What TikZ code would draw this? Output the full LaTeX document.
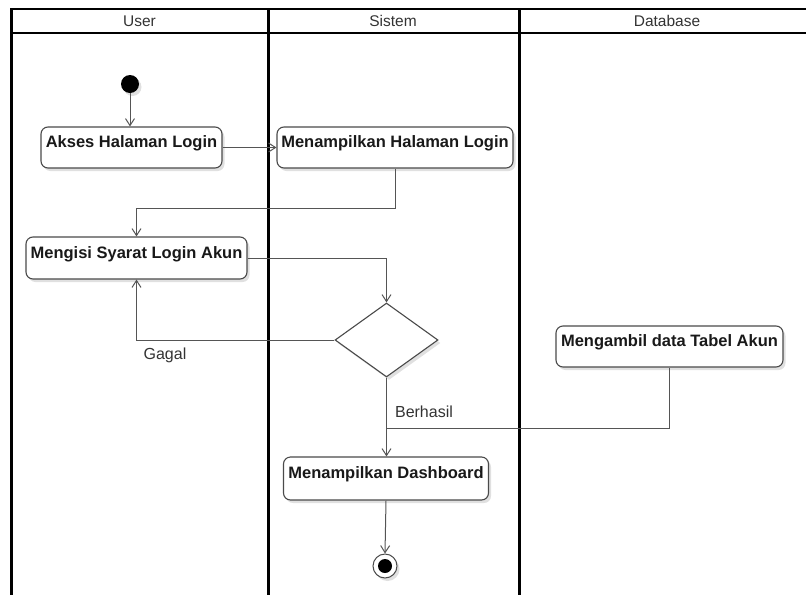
\documentclass[tikz,border=0pt]{standalone}
\usepackage{fontspec}
\setmainfont{Liberation Sans}
\usetikzlibrary{arrows.meta,shapes.geometric,shadows}
\definecolor{boxc}{HTML}{4A4A4A}
\definecolor{linec}{HTML}{555555}
\definecolor{txtc}{HTML}{333333}
\begin{document}
\begin{tikzpicture}[x=1pt,y=-1pt,
  softshadow/.style={drop shadow={shadow xshift=2.5pt,shadow yshift=-3pt,fill=black,opacity=0.12}},
  act/.style={draw=boxc,line width=1.1pt,rounded corners=7pt,fill=white,softshadow,
    font=\bfseries\fontsize{16.5}{19}\selectfont,text=black!90,
    inner xsep=0pt,inner ysep=0pt,text height=20.5pt,text depth=20.5pt},
  decision/.style={diamond,draw=boxc,line width=1.1pt,fill=white,softshadow,inner sep=0pt},
  lanehead/.style={font=\fontsize{15.5}{18}\selectfont,text=txtc},
  guard/.style={font=\fontsize{16}{19}\selectfont,text=txtc},
  flow/.style={draw=linec,line width=1pt,-{Straight Barb[length=7pt,width=9pt]}},
  lanerule/.style={line width=3pt,black},
  headrule/.style={line width=2pt,black}]
\useasboundingbox (0,0) rectangle (806,595);

% swimlanes
\draw[headrule] (11,9) -- (806,9);
\draw[headrule] (11,33) -- (806,33);
\draw[lanerule] (11,8) -- (11,595);
\draw[lanerule] (268,8) -- (268,595);
\draw[lanerule] (519,8) -- (519,595);
\node[lanehead] (hUser) at (139.5,21) {User};
\node[lanehead] (hSistem) at (393,21) {Sistem};
\node[lanehead] (hDb) at (667,21) {Database};

% initial and final states
\node[circle,fill=black,inner sep=0pt,minimum size=18pt,softshadow] (start) at (130,84) {};
\node[circle,draw=boxc,line width=1pt,fill=white,inner sep=0pt,minimum size=24pt,softshadow] (finish) at (385,566) {};
\node[circle,fill=black,inner sep=0pt,minimum size=14pt] (finishdot) at (finish.center) {};

% activities
\node[act,minimum width=181pt] (akses) at (131.5,147.5) {Akses Halaman Login};
\node[act,minimum width=236pt] (tampil) at (395,147.5) {Menampilkan Halaman Login};
\node[act,minimum width=221pt,text height=21pt,text depth=21pt] (isi) at (136.5,258) {Mengisi Syarat Login Akun};
\node[decision,minimum width=103pt,minimum height=74pt] (cek) at (386.5,340) {};
\node[act,minimum width=227pt] (ambil) at (669.5,346.5) {Mengambil data Tabel Akun};
\node[act,minimum width=205pt,text height=21.5pt,text depth=21.5pt] (dash) at (386,478.5) {Menampilkan Dashboard};

\coordinate (merge) at (386.5,428);

% transitions
\draw[flow] (start) -- (start |- akses.north);
\draw[flow] (akses.east) -- (tampil.west);
\draw[flow] (tampil.south) -- ++(0,40) -| (isi.north);
\draw[flow] (isi.east) -| (cek.north);
\draw[flow] (cek.west) -| (isi.south);
\draw[flow] (cek.south) -- (cek.south |- dash.north);
\draw[draw=linec,line width=1pt] (ambil.south) |- (merge);
\draw[flow] (dash.south) -- (finish.north);

% guards
\node[guard] (gagal) at (165,355) {Gagal};
\node[guard] (berhasil) at (424,412) {Berhasil};
\end{tikzpicture}
\end{document}
